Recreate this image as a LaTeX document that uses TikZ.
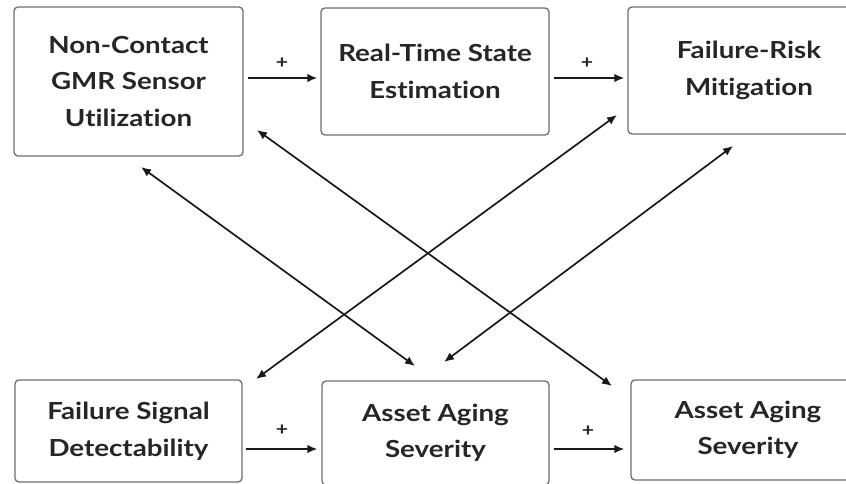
\documentclass[tikz,border=0pt]{standalone}
\usepackage{fontspec}
\setmainfont{Lato}[Ligatures={NoCommon}, FakeStretch=1.18]
\usetikzlibrary{arrows.meta,calc}
\definecolor{boxline}{HTML}{6E6E6E}
\definecolor{ink}{HTML}{262626}
\newcommand{\boxfont}{\bfseries\fontsize{23.5}{36.5}\selectfont}
\newcommand{\signfont}{\bfseries\fontsize{18}{18}\selectfont}
\begin{document}
\begin{tikzpicture}[x=1pt,y=-1pt,
  box/.style={draw=boxline, line width=1.3pt, rounded corners=4pt, fill=white,
    align=center, text=ink, font=\boxfont, inner sep=0pt},
  arr/.style={-{Latex[length=10pt,width=8.5pt]}, line width=1.8pt, draw=black!90},
  dbl/.style={{Latex[length=10pt,width=8.5pt]}-{Latex[length=10pt,width=8.5pt]}, line width=1.7pt, draw=black!90},
  sign/.style={font=\signfont, text=ink, inner sep=0pt}]
\useasboundingbox (0,0) rectangle (846,484);
\clip (0,0) rectangle (846,484);

% top row
\node[box, minimum width=229pt, minimum height=149pt] (gmr) at (128.5,81.5)
  {Non-Contact\\GMR Sensor\\Utilization};
\node[box, minimum width=228pt, minimum height=127pt] (est) at (435,71.5)
  {Real-Time State\\Estimation};
\node[box, minimum width=242pt, minimum height=127pt] (mit) at (749,70.5)
  {Failure-Risk\\Mitigation};

% bottom row
\node[box, minimum width=227pt, minimum height=102pt] (det) at (128.5,431)
  {Failure Signal\\Detectability};
\node[box, minimum width=227pt, minimum height=104pt] (age) at (435.5,433)
  {Asset Aging\\Severity};
\node[box, minimum width=234pt, minimum height=100pt] (sev) at (748,430)
  {Asset Aging\\Severity};

% positive links along each row
\draw[arr] ($(gmr.east)+(4,-3.5)$) -- ($(est.west)+(-3,6.5)$);
\draw[arr] ($(est.east)+(4,6.5)$) -- ($(mit.west)+(-3,7.5)$);
\draw[arr] ($(det.east)+(3,18)$) -- ($(age.west)+(-4,16)$);
\draw[arr] ($(age.east)+(4,16)$) -- ($(sev.west)+(-6,19)$);

\node[sign] (p1) at (282,63) {+};
\node[sign] (p2) at (587,63) {+};
\node[sign] (p3) at (282,430) {+};
\node[sign] (p4) at (588,431) {+};

% crossing two-way links
\coordinate (g1) at (141,167);
\coordinate (g2) at (257,130);
\coordinate (m1) at (617,115);
\coordinate (m2) at (733,146);
\coordinate (a1) at (415,366);
\coordinate (a2) at (444,362);
\coordinate (d1) at (256,379);
\coordinate (s1) at (612,386);

\draw[dbl] (g1) -- (a1);
\draw[dbl] (g2) -- (s1);
\draw[dbl] (m1) -- (d1);
\draw[dbl] (m2) -- (a2);
\end{tikzpicture}
\end{document}
